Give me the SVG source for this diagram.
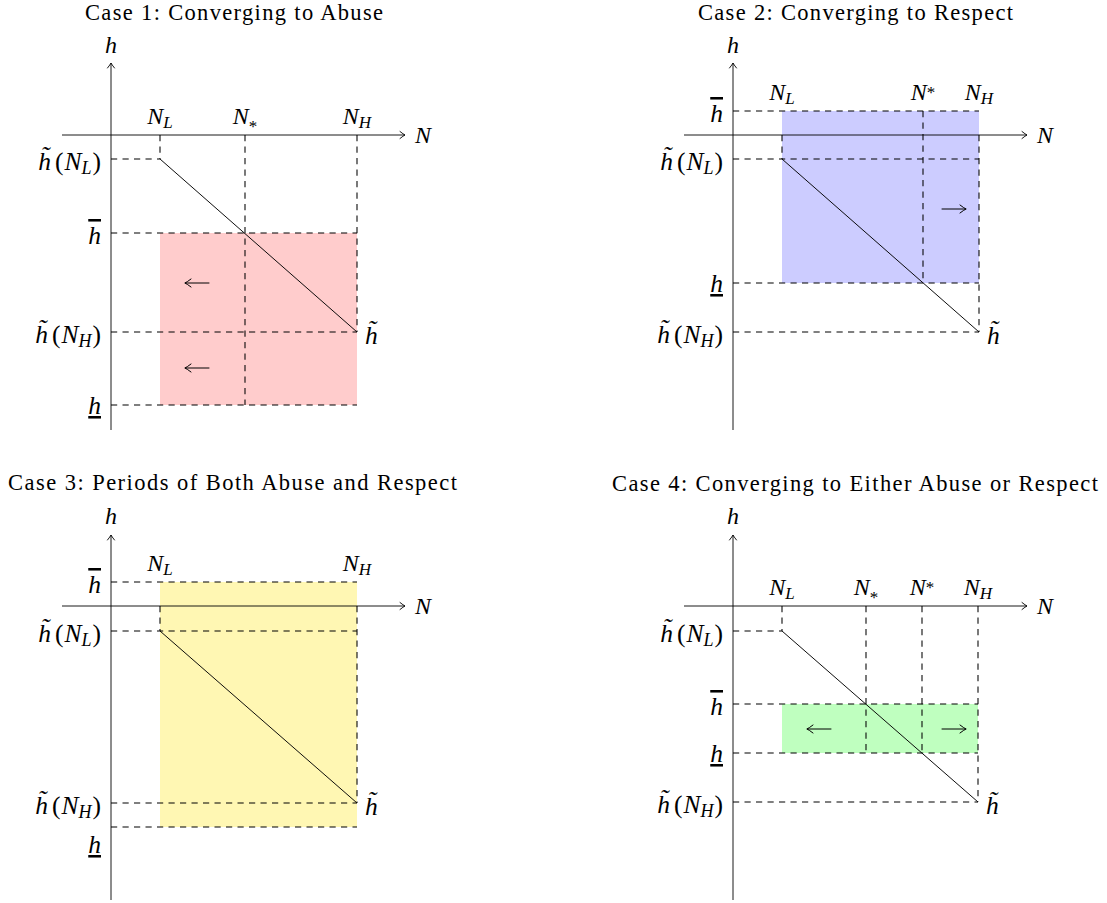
<svg xmlns="http://www.w3.org/2000/svg" width="1107" height="903" viewBox="0 0 1107 903">
<style>
text{font-family:"Liberation Serif","Times New Roman",serif;fill:#000}
.title{font-size:22.5px}
.m{font-size:24px;font-style:italic}
.lb{font-size:25.5px;font-style:italic}
.mid{text-anchor:middle}
.end{text-anchor:end}
.r{font-style:normal}
.sub{font-size:17px}
.sb{font-size:18px}
.ov{text-decoration:overline}
.un{text-decoration:underline}
.ax{stroke:#000;stroke-width:0.9;fill:none}
.ah{stroke:#000;stroke-width:0.9;fill:none;stroke-linecap:round;stroke-linejoin:round}
.ds{stroke:#000;stroke-width:1.05;stroke-dasharray:6.2 5.3;fill:none}
.cv{stroke:#000;stroke-width:0.95;fill:none}
.ar{stroke:#000;stroke-width:1;fill:none;stroke-linecap:round}
</style>

<!-- Panel 1 -->
<g id="case1">
  <text class="title mid" x="234" y="20" textLength="298" lengthAdjust="spacing">Case 1: Converging to Abuse</text>
  <rect id="c1-region" x="160" y="233" width="197" height="172" fill="#FFCCCC"/>
  <g id="c1-guides">
    <path class="ds" d="M111,159 H160"/>
    <path class="ds" d="M160,135 V159"/>
    <path class="ds" d="M245,135 V405"/>
    <path class="ds" d="M357,135 V332"/>
    <path class="ds" d="M111,233 H357"/>
    <path class="ds" d="M111,332 H357"/>
    <path class="ds" d="M111,405 H357"/>
  </g>
  <path id="c1-curve" class="cv" d="M160,159 L357,332"/>
  <g id="c1-arrows">
    <path class="ar" d="M209,283 H185 M191,279 Q187,282 185,283 Q187,284 191,287"/>
    <path class="ar" d="M209,368 H185 M191,364 Q187,367 185,368 Q187,369 191,372"/>
  </g>
  <g id="c1-axes">
    <path class="ax" d="M111,430 V63"/>
    <path class="ah" d="M107.5,68 Q110.3,64.5 111,63 Q111.7,64.5 114.5,68"/>
    <path class="ax" d="M62,135 H405"/>
    <path class="ah" d="M400,131.5 Q403.5,134.3 405,135 Q403.5,135.7 400,138.5"/>
  </g>
  <g id="c1-labels">
    <text class="m mid" x="111" y="53">h</text>
    <text class="m" x="415" y="143">N</text>
    <text class="m mid" x="160" y="124">N<tspan class="sub" dy="4">L</tspan></text>
    <text class="m mid" x="245" y="124">N<tspan class="sub r" dy="8">*</tspan></text>
    <text class="m mid" x="357" y="124">N<tspan class="sub" dy="4">H</tspan></text>
    <text class="lb end" x="101" y="169.5">h̃<tspan class="r" dx="4">(</tspan><tspan dx="1">N</tspan><tspan class="sb" dy="4">L</tspan><tspan class="r" dx="1" dy="-4">)</tspan></text>
    <text class="lb end ov" x="101" y="244">h</text>
    <text class="lb end" x="101" y="342.5">h̃<tspan class="r" dx="4">(</tspan><tspan dx="1">N</tspan><tspan class="sb" dy="4">H</tspan><tspan class="r" dx="1" dy="-4">)</tspan></text>
    <text class="lb end un" x="101" y="414">h</text>
    <text class="lb" x="365" y="343.5">h̃</text>
  </g>
</g>

<!-- Panel 2 -->
<g id="case2">
  <text class="title mid" x="855.5" y="20" textLength="315" lengthAdjust="spacing">Case 2: Converging to Respect</text>
  <rect id="c2-region" x="782" y="111" width="197" height="172" fill="#CCCCFF"/>
  <g id="c2-guides">
    <path class="ds" d="M733,111 H979"/>
    <path class="ds" d="M733,159 H979"/>
    <path class="ds" d="M733,283 H979"/>
    <path class="ds" d="M733,332 H979"/>
    <path class="ds" d="M782,135 V159"/>
    <path class="ds" d="M923,111 V283"/>
    <path class="ds" d="M979,135 V332"/>
  </g>
  <path id="c2-curve" class="cv" d="M782,159 L979,332"/>
  <g id="c2-arrows">
    <path class="ar" d="M942,209 H966 M960,205 Q964,208 966,209 Q964,210 960,213"/>
  </g>
  <g id="c2-axes">
    <path class="ax" d="M733,430 V63"/>
    <path class="ah" d="M729.5,68 Q732.3,64.5 733,63 Q733.7,64.5 736.5,68"/>
    <path class="ax" d="M684,135 H1027"/>
    <path class="ah" d="M1022,131.5 Q1025.5,134.3 1027,135 Q1025.5,135.7 1022,138.5"/>
  </g>
  <g id="c2-labels">
    <text class="m mid" x="733" y="53">h</text>
    <text class="m" x="1037" y="143">N</text>
    <text class="m mid" x="782" y="100">N<tspan class="sub" dy="4">L</tspan></text>
    <text class="m mid" x="923" y="100">N<tspan class="sub r" dy="-2.5">*</tspan></text>
    <text class="m mid" x="979" y="100">N<tspan class="sub" dy="4">H</tspan></text>
    <text class="lb end ov" x="723" y="122">h</text>
    <text class="lb end" x="723" y="169.5">h̃<tspan class="r" dx="4">(</tspan><tspan dx="1">N</tspan><tspan class="sb" dy="4">L</tspan><tspan class="r" dx="1" dy="-4">)</tspan></text>
    <text class="lb end un" x="723" y="292">h</text>
    <text class="lb end" x="723" y="342.5">h̃<tspan class="r" dx="4">(</tspan><tspan dx="1">N</tspan><tspan class="sb" dy="4">H</tspan><tspan class="r" dx="1" dy="-4">)</tspan></text>
    <text class="lb" x="987" y="343.5">h̃</text>
  </g>
</g>

<!-- Panel 3 -->
<g id="case3">
  <text class="title mid" x="232.5" y="490" textLength="449" lengthAdjust="spacing">Case 3: Periods of Both Abuse and Respect</text>
  <rect id="c3-region" x="160" y="582" width="197" height="245" fill="#FFF7B3"/>
  <g id="c3-guides">
    <path class="ds" d="M111,582 H357"/>
    <path class="ds" d="M111,631 H357"/>
    <path class="ds" d="M160,606 V631"/>
    <path class="ds" d="M357,606 V803"/>
    <path class="ds" d="M111,803 H357"/>
    <path class="ds" d="M111,827 H357"/>
  </g>
  <path id="c3-curve" class="cv" d="M160,631 L357,803"/>
  <g id="c3-axes">
    <path class="ax" d="M111,900 V535"/>
    <path class="ah" d="M107.5,540 Q110.3,536.5 111,535 Q111.7,536.5 114.5,540"/>
    <path class="ax" d="M62,606 H405"/>
    <path class="ah" d="M400,602.5 Q403.5,605.3 405,606 Q403.5,606.7 400,609.5"/>
  </g>
  <g id="c3-labels">
    <text class="m mid" x="111" y="524">h</text>
    <text class="m" x="415" y="614">N</text>
    <text class="m mid" x="160" y="571">N<tspan class="sub" dy="4">L</tspan></text>
    <text class="m mid" x="357" y="571">N<tspan class="sub" dy="4">H</tspan></text>
    <text class="lb end ov" x="101" y="593">h</text>
    <text class="lb end" x="101" y="641.5">h̃<tspan class="r" dx="4">(</tspan><tspan dx="1">N</tspan><tspan class="sb" dy="4">L</tspan><tspan class="r" dx="1" dy="-4">)</tspan></text>
    <text class="lb end" x="101" y="813.5">h̃<tspan class="r" dx="4">(</tspan><tspan dx="1">N</tspan><tspan class="sb" dy="4">H</tspan><tspan class="r" dx="1" dy="-4">)</tspan></text>
    <text class="lb end un" x="101" y="853">h</text>
    <text class="lb" x="365" y="814.5">h̃</text>
  </g>
</g>

<!-- Panel 4 -->
<g id="case4">
  <text class="title mid" x="855" y="490.5" textLength="486" lengthAdjust="spacing">Case 4: Converging to Either Abuse or Respect</text>
  <rect id="c4-region" x="782" y="704" width="196" height="49" fill="#BFFFBF"/>
  <g id="c4-guides">
    <path class="ds" d="M733,631 H782"/>
    <path class="ds" d="M782,606 V631"/>
    <path class="ds" d="M866,606 V753"/>
    <path class="ds" d="M922,606 V753"/>
    <path class="ds" d="M978,606 V802"/>
    <path class="ds" d="M733,704 H978"/>
    <path class="ds" d="M733,753 H978"/>
    <path class="ds" d="M733,802 H978"/>
  </g>
  <path id="c4-curve" class="cv" d="M782,631 L978,802"/>
  <g id="c4-arrows">
    <path class="ar" d="M831,729 H807 M813,725 Q809,728 807,729 Q809,730 813,733"/>
    <path class="ar" d="M942,729 H966 M960,725 Q964,728 966,729 Q964,730 960,733"/>
  </g>
  <g id="c4-axes">
    <path class="ax" d="M733,900 V535"/>
    <path class="ah" d="M729.5,540 Q732.3,536.5 733,535 Q733.7,536.5 736.5,540"/>
    <path class="ax" d="M684,606 H1027"/>
    <path class="ah" d="M1022,602.5 Q1025.5,605.3 1027,606 Q1025.5,606.7 1022,609.5"/>
  </g>
  <g id="c4-labels">
    <text class="m mid" x="733" y="524">h</text>
    <text class="m" x="1037" y="614">N</text>
    <text class="m mid" x="782" y="595">N<tspan class="sub" dy="4">L</tspan></text>
    <text class="m mid" x="866" y="595">N<tspan class="sub r" dy="8">*</tspan></text>
    <text class="m mid" x="922" y="595">N<tspan class="sub r" dy="-2.5">*</tspan></text>
    <text class="m mid" x="978" y="595">N<tspan class="sub" dy="4">H</tspan></text>
    <text class="lb end" x="723" y="641.5">h̃<tspan class="r" dx="4">(</tspan><tspan dx="1">N</tspan><tspan class="sb" dy="4">L</tspan><tspan class="r" dx="1" dy="-4">)</tspan></text>
    <text class="lb end ov" x="723" y="715">h</text>
    <text class="lb end un" x="723" y="762">h</text>
    <text class="lb end" x="723" y="812.5">h̃<tspan class="r" dx="4">(</tspan><tspan dx="1">N</tspan><tspan class="sb" dy="4">H</tspan><tspan class="r" dx="1" dy="-4">)</tspan></text>
    <text class="lb" x="986" y="814">h̃</text>
  </g>
</g>
</svg>
